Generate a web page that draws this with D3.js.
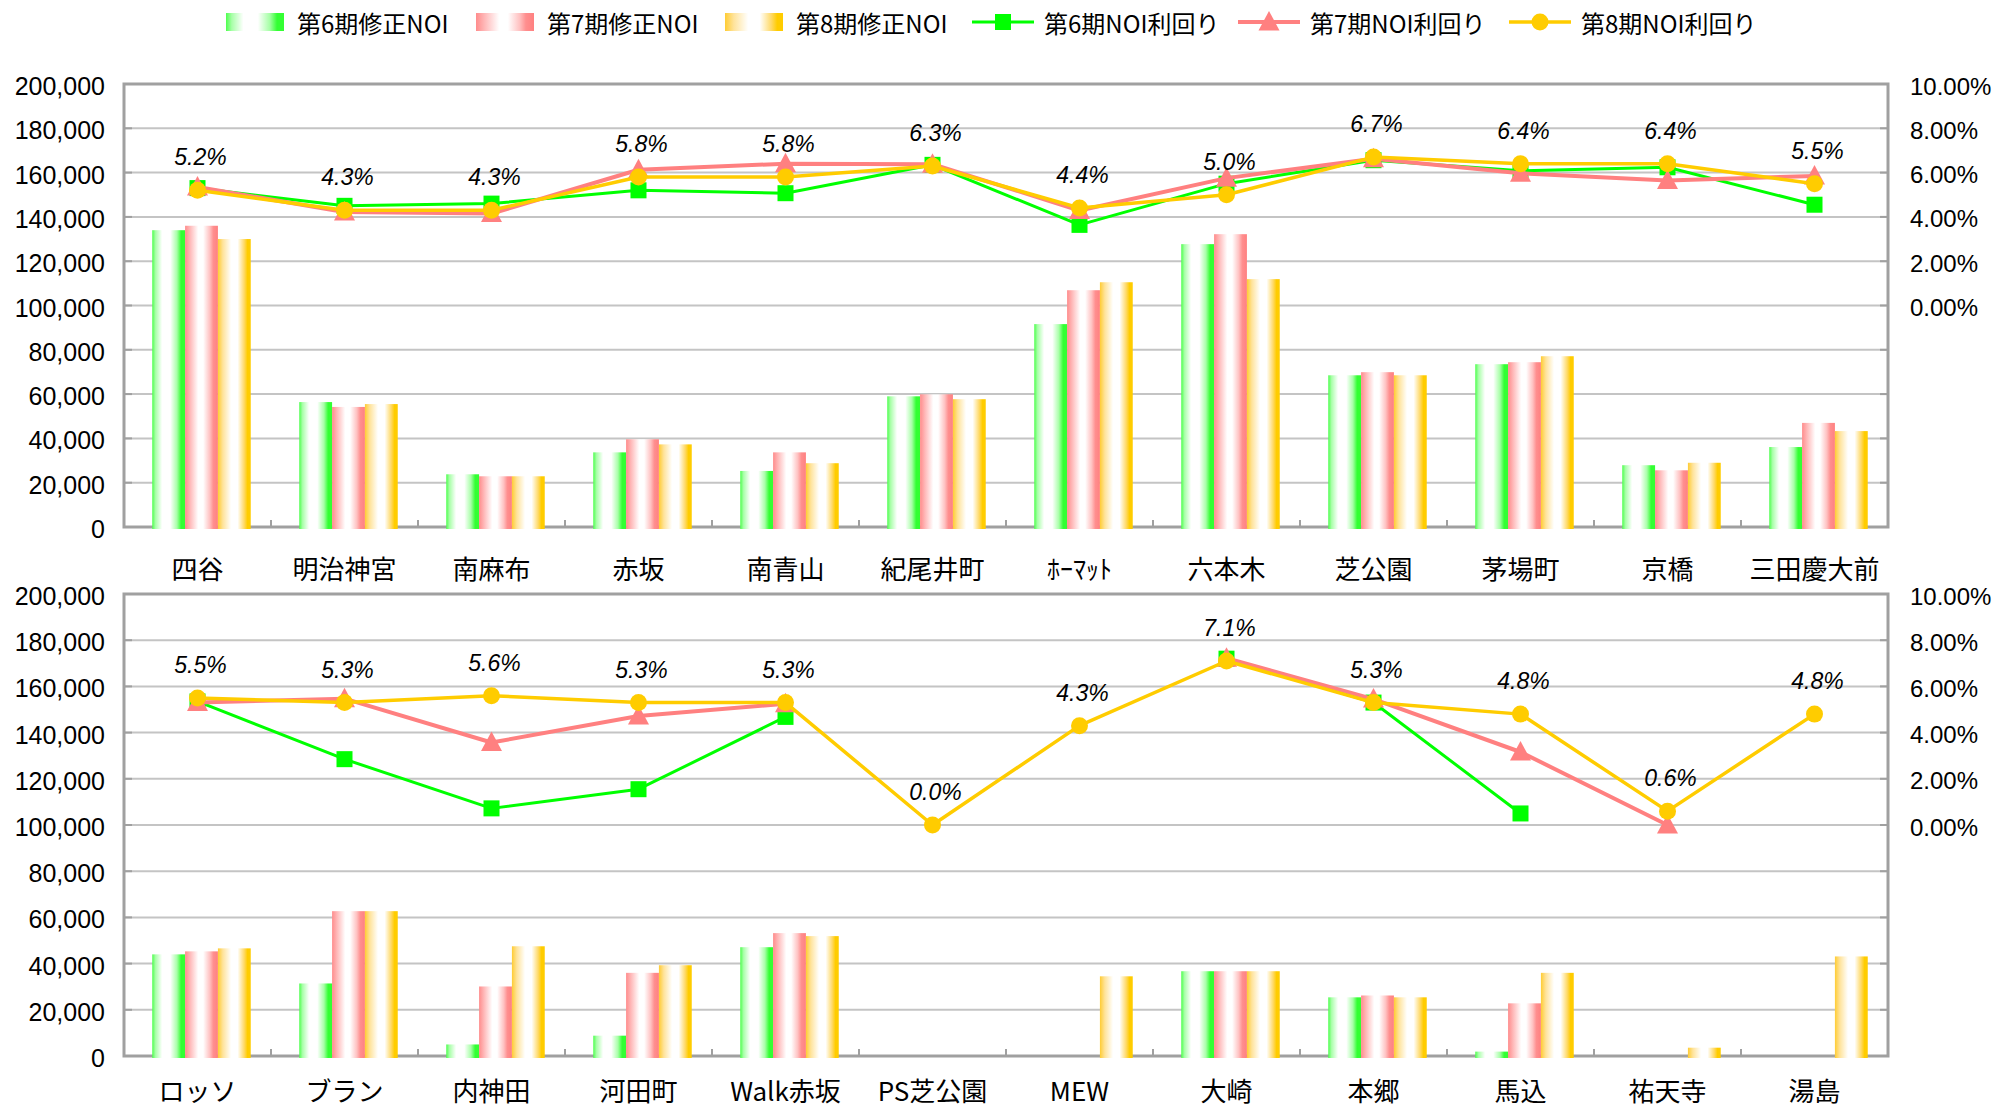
<!DOCTYPE html>
<html>
<head>
<meta charset="utf-8">
<script src="https://cdn.jsdelivr.net/npm/d3@7"></script>
<style>
  html, body { margin: 0; padding: 0; background: #fff; }
  svg { display: block; }
</style>
</head>
<body>
<script>
// ---- data ----
const topCats = ["四谷", "明治神宮", "南麻布", "赤坂", "南青山", "紀尾井町", "ﾎｰﾏｯﾄ", "六本木", "芝公園", "茅場町", "京橋", "三田慶大前"];
const topNoi6 = [134000, 56400, 23800, 33700, 25300, 59000, 91600, 127700, 68500, 73500, 27900, 36100];
const topNoi7 = [136000, 54200, 22900, 39600, 33700, 59900, 106900, 132200, 69900, 74400, 25600, 47000];
const topNoi8 = [130000, 55500, 22900, 37300, 28800, 57700, 110500, 111900, 68500, 77100, 29000, 43300];
const topYield6 = [5.3, 4.5, 4.6, 5.2, 5.07, 6.35, 3.64, 5.5, 6.56, 6.08, 6.24, 4.55];
const topYield7 = [5.35, 4.22, 4.15, 6.13, 6.4, 6.38, 4.29, 5.75, 6.63, 5.97, 5.64, 5.85];
const topYield8 = [5.2, 4.3, 4.3, 5.8, 5.8, 6.3, 4.4, 5.0, 6.7, 6.4, 6.4, 5.5];

const bottomCats = ["ロッソ", "ブラン", "内神田", "河田町", "Walk赤坂", "PS芝公園", "MEW", "大崎", "本郷", "馬込", "祐天寺", "湯島"];
const bottomNoi6 = [44000, 31400, 5000, 8800, 47100, null, null, 36700, 25400, 1900, null, null];
const bottomNoi7 = [45300, 62700, 30100, 36000, 53200, null, null, 36700, 26200, 22800, null, null];
const bottomNoi8 = [46600, 62700, 47500, 39300, 51900, 0, 34500, 36700, 25400, 36000, 3600, 43100];
const bottomYield6 = [5.35, 2.85, 0.72, 1.55, 4.68, null, null, 7.2, 5.3, 0.5, null, null];
const bottomYield7 = [5.3, 5.47, 3.57, 4.72, 5.25, null, null, 7.22, 5.45, 3.16, 0.0, null];
const bottomYield8 = [5.5, 5.3, 5.6, 5.3, 5.3, 0.0, 4.3, 7.1, 5.3, 4.8, 0.6, 4.8];

const noiTicks = [0, 20000, 40000, 60000, 80000, 100000, 120000, 140000, 160000, 180000, 200000];
const yieldTicks = [0, 2, 4, 6, 8, 10];

const barNames = ["第6期修正NOI", "第7期修正NOI", "第8期修正NOI"];
const lineNames = ["第6期NOI利回り", "第7期NOI利回り", "第8期NOI利回り"];

// ---- styling ----
const W = 2011, H = 1111;
const barGrad = [
  { id: "gGreen", stops: [[0, "#4dff4d"], [0.1, "#a8ffa8"], [0.3, "#ffffff"], [0.55, "#ffffff"], [0.75, "#a8ffa8"], [0.88, "#33ff33"], [1, "#33ff33"]] },
  { id: "gPink", stops: [[0, "#ff8c8c"], [0.15, "#ffb8b8"], [0.4, "#ffffff"], [0.55, "#ffffff"], [0.75, "#ffc2c2"], [0.86, "#ff8f8f"], [1, "#ff8080"]] },
  { id: "gYellow", stops: [[0, "#ffcc33"], [0.15, "#ffe39a"], [0.4, "#ffffff"], [0.6, "#ffffff"], [0.8, "#ffd966"], [0.9, "#ffcc00"], [1, "#ffcc00"]] }
];
const lineColors = ["#00ff00", "#ff8080", "#ffcc00"];
const lineWidths = [3, 4, 3.5];
const axisGray = "#a0a0a0";
const gridGray = "#c4c4c4";
const numFont = "'Liberation Sans', Arial, sans-serif";
const cjkFont = "'Noto Sans CJK JP', 'Noto Sans', sans-serif";

const svg = d3.select("body").append("svg")
  .attr("width", W).attr("height", H)
  .attr("viewBox", `0 0 ${W} ${H}`);
svg.append("rect").attr("width", W).attr("height", H).attr("fill", "#fff");

const defs = svg.append("defs");
barGrad.forEach(g => {
  const lg = defs.append("linearGradient").attr("id", g.id)
    .attr("x1", "0").attr("x2", "1").attr("y1", "0").attr("y2", "0");
  g.stops.forEach(s => lg.append("stop").attr("offset", s[0]).attr("stop-color", s[1]));
});

// marker drawing helpers
function drawMarker(sel, kind, color) {
  if (kind === 0) {
    sel.append("rect").attr("x", -8).attr("y", -8).attr("width", 16).attr("height", 16).attr("fill", color);
  } else if (kind === 1) {
    sel.append("path").attr("d", "M0,-11 L10.5,8.5 L-10.5,8.5 Z").attr("fill", color);
  } else {
    sel.append("circle").attr("r", 8.5).attr("fill", color);
  }
}

function drawPanel(cfg) {
  const { cats, noi, yields, x0, x1, yTop, yBot, labelY } = cfg;
  const g = svg.append("g");

  const x = d3.scaleBand().domain(cats).range([x0, x1]).paddingInner(0).paddingOuter(0);
  const y = d3.scaleLinear().domain([0, 200000]).range([yBot, yTop]);
  const yR = d3.scaleLinear().domain([-10, 10]).range([yBot, yTop]);
  const sub = d3.scaleBand().domain([0, 1, 2]).range([0, x.bandwidth() * 0.67]);
  const groupOffset = (x.bandwidth() - x.bandwidth() * 0.67) / 2 + 4;

  // gridlines
  g.append("g").selectAll("line").data(noiTicks.filter(t => t > 0 && t < 200000)).join("line")
    .attr("x1", x0).attr("x2", x1)
    .attr("y1", d => y(d)).attr("y2", d => y(d))
    .attr("stroke", gridGray).attr("stroke-width", 2);

  // left axis
  const left = d3.axisLeft(y).tickValues(noiTicks).tickFormat(d3.format(",")).tickSize(0).tickPadding(19);
  const la = g.append("g").attr("transform", `translate(${x0},0)`).call(left);
  la.select(".domain").remove();
  la.selectAll("text").attr("font-family", numFont).attr("font-size", 25).attr("fill", "#000").attr("dy", "0.42em");
  // inner ticks along left edge
  g.append("g").selectAll("line").data(noiTicks).join("line")
    .attr("x1", x0).attr("x2", x0 + 8)
    .attr("y1", d => y(d)).attr("y2", d => y(d))
    .attr("stroke", axisGray).attr("stroke-width", 2);

  // right axis (yield)
  const right = d3.axisRight(yR).tickValues(yieldTicks).tickFormat(d => d3.format(".2f")(d) + "%").tickSize(0).tickPadding(22);
  const ra = g.append("g").attr("transform", `translate(${x1},0)`).call(right);
  ra.select(".domain").remove();
  ra.selectAll("text").attr("font-family", numFont).attr("font-size", 24).attr("fill", "#000").attr("dy", "0.42em");
  g.append("g").selectAll("line").data(noiTicks).join("line")
    .attr("x1", x1 - 8).attr("x2", x1)
    .attr("y1", d => y(d)).attr("y2", d => y(d))
    .attr("stroke", axisGray).attr("stroke-width", 2);

  // frame
  g.append("rect").attr("x", x0).attr("y", yTop).attr("width", x1 - x0).attr("height", yBot - yTop)
    .attr("fill", "none").attr("stroke", axisGray).attr("stroke-width", 3);

  // category boundary ticks
  g.append("g").selectAll("line").data(cats.slice(1)).join("line")
    .attr("x1", d => x(d)).attr("x2", d => x(d))
    .attr("y1", yBot).attr("y2", yBot - 7)
    .attr("stroke", axisGray).attr("stroke-width", 2);

  // bars
  noi.forEach((series, si) => {
    g.append("g").selectAll("rect").data(cats.map((c, i) => ({ c, v: series[i] })).filter(d => d.v != null && d.v > 0))
      .join("rect")
      .attr("x", d => x(d.c) + groupOffset + sub(si))
      .attr("width", sub.bandwidth())
      .attr("y", d => y(d.v))
      .attr("height", d => yBot + 2 - y(d.v))
      .attr("fill", `url(#${barGrad[si].id})`);
  });

  // category labels
  g.append("g").selectAll("text").data(cats).join("text")
    .attr("x", d => x(d) + x.bandwidth() / 2)
    .attr("y", labelY)
    .attr("text-anchor", "middle")
    .attr("dominant-baseline", "central")
    .attr("font-family", cjkFont).attr("font-size", 26).attr("fill", "#000")
    .text(d => d);

  // yield lines and markers
  const cx = c => x(c) + x.bandwidth() / 2;
  yields.forEach((series, si) => {
    const pts = cats.map((c, i) => ({ c, v: series[i] }));
    const line = d3.line().defined(d => d.v != null).x(d => cx(d.c)).y(d => yR(d.v));
    g.append("path").datum(pts).attr("d", line)
      .attr("fill", "none").attr("stroke", lineColors[si]).attr("stroke-width", lineWidths[si])
      .attr("stroke-linejoin", "round");
    g.append("g").selectAll("g").data(pts.filter(d => d.v != null)).join("g")
      .attr("transform", d => `translate(${cx(d.c)},${yR(d.v)})`)
      .each(function () { drawMarker(d3.select(this), si, lineColors[si]); });
  });

  // value labels for the latest period yield
  const latest = yields[2];
  g.append("g").selectAll("text").data(cats.map((c, i) => ({ c, v: latest[i] })).filter(d => d.v != null))
    .join("text")
    .attr("x", d => cx(d.c) + 3)
    .attr("y", d => yR(d.v) - 33)
    .attr("text-anchor", "middle")
    .attr("dominant-baseline", "central")
    .attr("font-family", numFont).attr("font-style", "italic").attr("font-size", 23).attr("fill", "#000")
    .text(d => d3.format(".1f")(d.v) + "%");
}

drawPanel({ cats: topCats, noi: [topNoi6, topNoi7, topNoi8], yields: [topYield6, topYield7, topYield8],
  x0: 124, x1: 1888, yTop: 84, yBot: 527, labelY: 567 });
drawPanel({ cats: bottomCats, noi: [bottomNoi6, bottomNoi7, bottomNoi8], yields: [bottomYield6, bottomYield7, bottomYield8],
  x0: 124, x1: 1888, yTop: 594, yBot: 1056, labelY: 1089 });

// legend
const legend = svg.append("g");
const legendY = 22;
const barLegendX = [226, 476, 725];
barNames.forEach((name, i) => {
  legend.append("rect").attr("x", barLegendX[i]).attr("y", legendY - 9).attr("width", 58).attr("height", 18)
    .attr("fill", `url(#${barGrad[i].id})`);
  legend.append("text").attr("x", barLegendX[i] + 71).attr("y", legendY)
    .attr("dominant-baseline", "central")
    .attr("font-family", cjkFont).attr("font-size", 24).attr("fill", "#000").text(name);
});
const lineLegendX = [972, 1238, 1509];
lineNames.forEach((name, i) => {
  legend.append("line").attr("x1", lineLegendX[i]).attr("x2", lineLegendX[i] + 62)
    .attr("y1", legendY).attr("y2", legendY)
    .attr("stroke", lineColors[i]).attr("stroke-width", lineWidths[i]);
  const m = legend.append("g").attr("transform", `translate(${lineLegendX[i] + 31},${legendY})`);
  drawMarker(m, i, lineColors[i]);
  legend.append("text").attr("x", lineLegendX[i] + 72).attr("y", legendY)
    .attr("dominant-baseline", "central")
    .attr("font-family", cjkFont).attr("font-size", 24).attr("fill", "#000").text(name);
});
</script>
</body>
</html>
